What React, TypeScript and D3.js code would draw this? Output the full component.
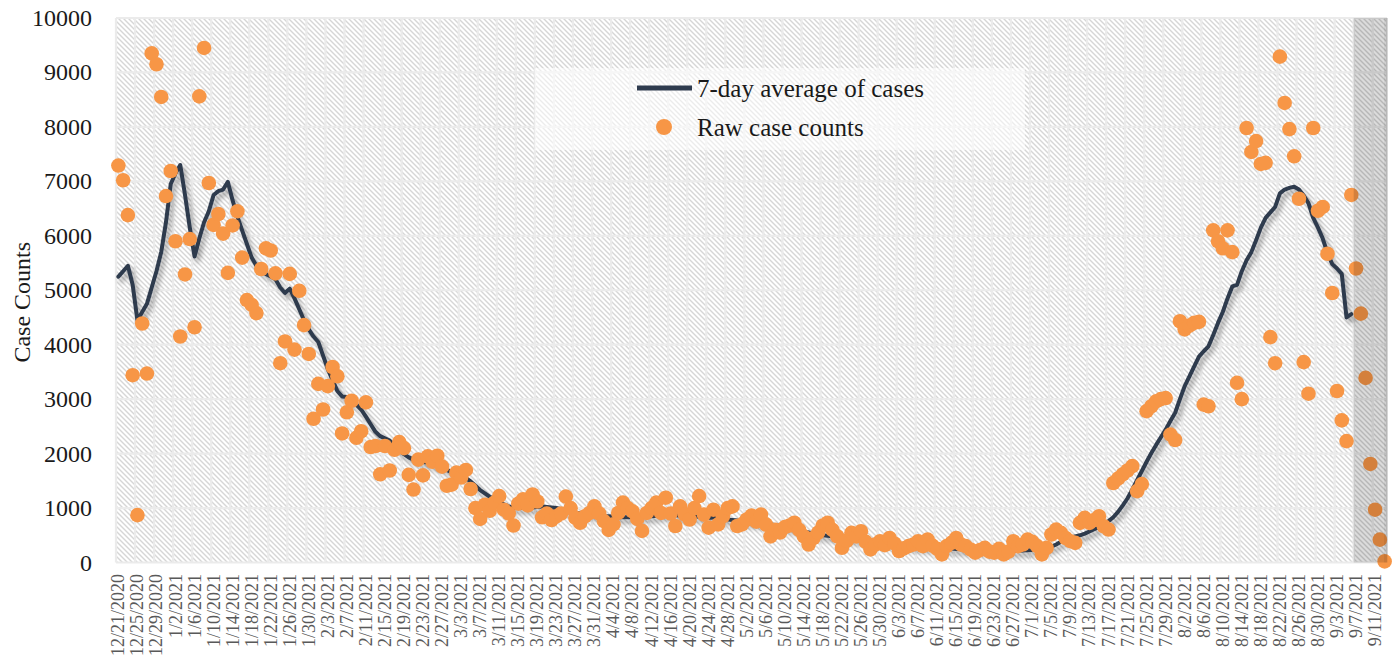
import React from 'react';
import * as d3 from 'd3';

// ---- data ----
const startDate = new Date(2020, 11, 21); // first category: 12/21/2020

// raw daily case counts, one per day starting 12/21/2020
const rawCases: number[] = [
  7290, 7020, 6380, 3440, 870, 4390, 3470, 9350, 9150, 8550,
  6730, 7190, 5900, 4150, 5290, 5940, 4320, 8560, 9450, 6970,
  6200, 6400, 6040, 5320, 6190, 6450, 5600, 4820, 4730, 4580,
  5390, 5770, 5730, 5310, 3660, 4060, 5300, 3910, 4990, 4360,
  3830, 2640, 3280, 2810, 3240, 3590, 3420, 2370, 2760, 2970,
  2290, 2410, 2940, 2120, 2140, 1620, 2140, 1690, 2070, 2210,
  2100, 1610, 1340, 1890, 1600, 1950, 1850, 1960, 1760, 1410,
  1430, 1650, 1560, 1700, 1350, 1000, 800, 1060, 950, 1100,
  1220, 970, 900, 680, 1080, 1160, 1050, 1250, 1120, 830,
  900, 780, 850, 900, 1210, 1000, 820, 730, 850, 910,
  1030, 900, 760, 600, 700, 910, 1100, 1000, 940, 800,
  580, 910, 1000, 1100, 910, 1190, 900, 670, 1030, 880,
  790, 1000, 1220, 880, 640, 970, 700, 850, 1000, 1030,
  670, 700, 790, 860, 750, 880, 700, 480, 600, 550,
  650, 680, 730, 600, 480, 330, 450, 550, 680, 730,
  600, 480, 270, 400, 545, 480, 575, 380, 240, 330,
  390, 320, 450, 350, 210, 260, 300, 330, 390, 300,
  420, 310, 250, 150, 300, 360, 450, 330, 300, 240,
  180, 230, 270, 200, 180, 250, 150, 200, 390, 300,
  330, 420, 380, 300, 150, 270, 514, 605, 545, 450,
  391, 361, 728, 820, 728, 780, 850, 666, 605, 1460,
  1540, 1620, 1690, 1770, 1310, 1440, 2780, 2870, 2960, 3000,
  3020, 2350, 2250, 4430, 4280, 4350, 4400, 4420, 2900, 2870,
  6100, 5900, 5770, 6100, 5700, 3300, 3000, 7980, 7540, 7740,
  7320, 7340, 4140, 3660, 9290, 8440, 7960, 7460, 6680, 3680,
  3100, 7980, 6460, 6530, 5670, 4950, 3150, 2610, 2230, 6750,
  5400, 4570, 3390, 1810, 970, 420, 20,
];

// 7-day average, one per day starting 12/21/2020 (ends 9/5/2021)
const avgCases: number[] = [
  5250, 5350, 5450, 5100, 4450, 4600, 4750, 5050, 5350, 5700,
  6250, 6950, 7150, 7300, 6750, 6150, 5620, 5950, 6250, 6450,
  6750, 6820, 6850, 6990, 6650, 6350, 6100, 5850, 5600, 5450,
  5350, 5300, 5250, 5200, 5050, 4950, 5030, 4850, 4650, 4450,
  4280, 4150, 4050, 3800, 3550, 3350, 3150, 3050, 3040, 2960,
  2900, 2810, 2680, 2540, 2400, 2320, 2280, 2240, 2150, 2050,
  1990, 1930, 1890, 1870, 1850, 1830, 1800, 1770, 1740, 1700,
  1660, 1640, 1600, 1550, 1490, 1410, 1330, 1270, 1210, 1160,
  1110, 1070, 1030, 1010, 1000, 1000, 1000, 1010, 1020, 1030,
  1020, 1010, 1000, 980, 960, 940, 920, 900, 890, 880,
  870, 860, 850, 850, 840, 830, 830, 830, 830, 830,
  835, 840, 850, 860, 870, 880, 880, 870, 860, 860,
  850, 850, 840, 830, 820, 820, 810, 800, 790, 780,
  770, 760, 750, 740, 730, 720, 710, 700, 690, 670,
  650, 630, 610, 590, 570, 550, 530, 510, 500, 490,
  480, 470, 460, 450, 440, 430, 420, 410, 400, 390,
  380, 370, 360, 340, 330, 320, 310, 300, 290, 285,
  280, 275, 270, 265, 260, 255, 250, 245, 240, 235,
  230, 228, 225, 222, 220, 218, 215, 215, 215, 218,
  220, 225, 230, 240, 250, 265, 290, 330, 380, 420,
  450, 480, 500, 530, 570, 610, 650, 700, 760, 830,
  930, 1050, 1180, 1340, 1510, 1680, 1850, 2010, 2160, 2300,
  2440, 2600, 2750, 3000, 3240, 3420, 3600, 3780, 3880, 3970,
  4180, 4400, 4600, 4850, 5070, 5100, 5350, 5550, 5700, 5920,
  6150, 6330, 6430, 6530, 6780, 6850, 6880, 6900, 6850, 6740,
  6600, 6330, 6150, 5950, 5680, 5480, 5400, 5300, 4500, 4560,
];

const yTickValues: number[] = [0, 1000, 2000, 3000, 4000, 5000, 6000, 7000, 8000, 9000, 10000];
const tickEvery = 4; // a date label every 4 days
const shadedStart = new Date(2021, 8, 7); // incomplete-data region
const legendLabels = ['7-day average of cases', 'Raw case counts'];

export default function App() {
  const W = 1398, H = 660;
  const left = 116, right = 1387, top = 18, bottom = 562.5;
  const serif = '"Liberation Serif", "DejaVu Serif", serif';

  const dates = d3.timeDay.range(startDate, d3.timeDay.offset(startDate, rawCases.length));
  const idx = d3.range(rawCases.length);
  const x = d3.scaleBand<number>().domain(idx).range([left, right]).paddingInner(0).paddingOuter(0);
  const bw = x.bandwidth();
  const cx = (i: number) => (x(i) as number) + bw / 2;
  const y = d3.scaleLinear().domain([0, 10000]).range([bottom, top]);
  const fmt = d3.timeFormat('%-m/%-d/%Y');

  const linePath = d3.line<number>().x((_, i) => cx(i)).y((d) => y(d))(avgCases) || '';
  const tickIdx = idx.filter((i) => i % tickEvery === 0);
  const shadeIdx = dates.findIndex((d) => +d === +shadedStart);
  const shadeX = x(shadeIdx) as number;

  const orange = '#f79646';
  const navy = '#2e3b4e';

  return (
    <div>
      <style>{'body{margin:0;background:#fff}'}</style>
      <svg width={W} height={H} style={{ display: 'block', fontFamily: serif }}>
        <defs>
          <pattern id="hatch" width="5" height="5" patternUnits="userSpaceOnUse">
            <rect width="5" height="5" fill="#ffffff" />
            <path d="M-1,-1 L6,6 M4,-1 L6,1 M-1,4 L1,6" stroke="#d6d6d6" strokeWidth="1.4" />
          </pattern>
          <filter id="shadow" x="-5%" y="-5%" width="110%" height="120%">
            <feDropShadow dx="3" dy="4" stdDeviation="2.5" floodColor="#000" floodOpacity="0.35" />
          </filter>
        </defs>

        {/* plot background */}
        <rect x={left} y={top} width={right - left} height={bottom - top} fill="url(#hatch)" />

        {/* gridlines */}
        {yTickValues.map((v) => (
          <line key={'h' + v} x1={left} x2={right} y1={y(v)} y2={y(v)} stroke="#ebebeb" strokeWidth={2.2} />
        ))}
        {tickIdx.map((i) => (
          <line key={'v' + i} x1={x(i) as number} x2={x(i) as number} y1={top} y2={bottom} stroke="#ebebeb" strokeWidth={2.2} />
        ))}
        <line x1={right} x2={right} y1={top} y2={bottom} stroke="#e4e4e4" strokeWidth={2} />

        {/* 7-day average line */}
        <path d={linePath} fill="none" stroke={navy} strokeWidth={4} strokeLinejoin="round" strokeLinecap="round" filter="url(#shadow)" />

        {/* raw counts */}
        {rawCases.map((v, i) => (
          <circle key={'c' + i} cx={cx(i)} cy={y(v)} r={7.3} fill={orange} />
        ))}

        {/* shaded incomplete region */}
        <rect x={shadeX} y={top} width={right - shadeX} height={bottom - top} fill="#000" opacity={0.14} />
        <rect x={right - 3} y={top} width={4} height={bottom - top} fill="#000" opacity={0.06} />

        {/* y axis labels */}
        {yTickValues.map((v) => (
          <text key={'yl' + v} x={92} y={y(v)} textAnchor="end" dominantBaseline="central" fontSize={24} fill="#1a1a1a">
            {v}
          </text>
        ))}
        <text transform={`translate(22,${(top + bottom) / 2 + 12}) rotate(-90)`} textAnchor="middle" dominantBaseline="central" fontSize={24} fill="#1a1a1a">
          Case Counts
        </text>

        {/* x axis labels */}
        {tickIdx.map((i) => (
          <text key={'xl' + i} transform={`translate(${cx(i)},574) rotate(-90)`} textAnchor="end" dominantBaseline="central" fontSize={18} fill="#595959">
            {fmt(dates[i])}
          </text>
        ))}

        {/* legend */}
        <rect x={535} y={68} width={490} height={82} fill="#fff" opacity={0.55} />
        <line x1={637} x2={692} y1={88} y2={88} stroke={navy} strokeWidth={5} />
        <text x={697} y={88} dominantBaseline="central" fontSize={25} fill="#1a1a1a">{legendLabels[0]}</text>
        <circle cx={664} cy={127} r={8} fill={orange} />
        <text x={697} y={127} dominantBaseline="central" fontSize={25} fill="#1a1a1a">{legendLabels[1]}</text>
      </svg>
    </div>
  );
}
